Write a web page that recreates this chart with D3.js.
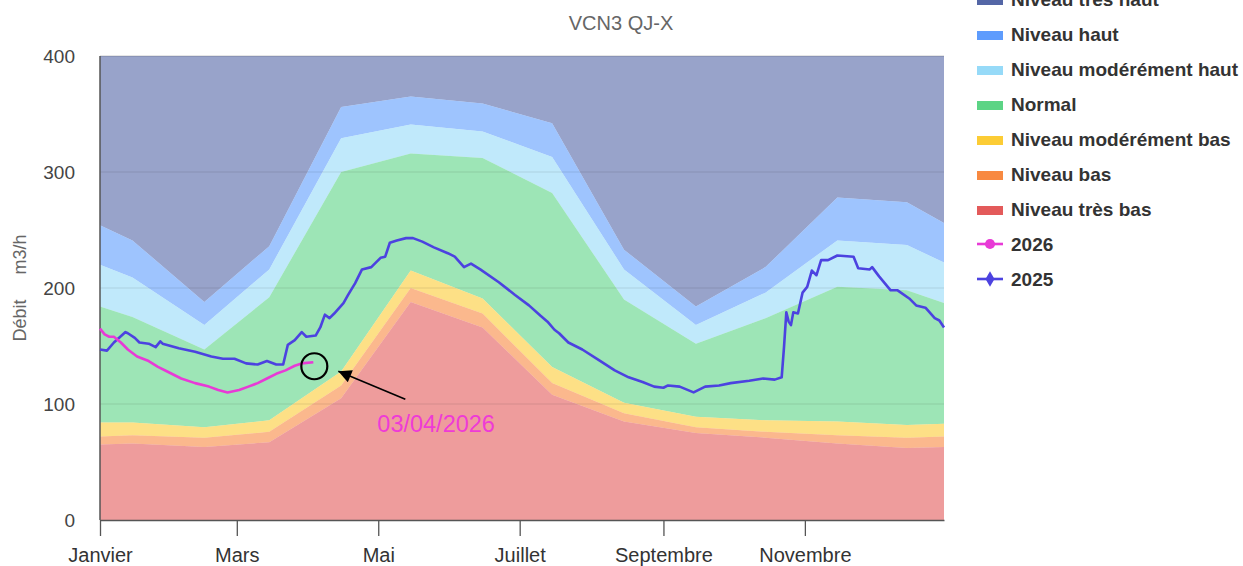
<!DOCTYPE html>
<html>
<head lang="fr">
  <meta charset="UTF-8">
  <title>VCN3 QJ-X</title>
  <script src="https://cdn.jsdelivr.net/npm/d3@7"></script>
  <style>
    body { margin: 0; background: #fff; }
    text { font-family: "Liberation Sans", Arial, sans-serif; }
  </style>
</head>
<body>
<svg id="chart" width="1243" height="566"></svg>
<script>
  // Band breakpoints (mid-month), values = upper limit of each band in m3/h
  var bandDates = ['01-01', '01-15', '02-15', '03-15', '04-15', '05-15', '06-15',
                   '07-15', '08-15', '09-15', '10-15', '11-15', '12-15', '12-31'];
  var tresBas    = [65, 66, 63, 67, 105, 188, 166, 108, 85, 75, 71, 66, 62, 63];
  var bas        = [72, 73, 71, 76, 116, 200, 178, 118, 92, 80, 76, 73, 71, 72];
  var modBas     = [84, 84, 80, 86, 128, 215, 191, 132, 101, 89, 86, 85, 82, 83];
  var normal     = [184, 175, 147, 192, 300, 316, 312, 282, 190, 152, 174, 201, 198, 187];
  var modHaut    = [220, 209, 168, 216, 329, 341, 335, 313, 216, 168, 196, 241, 237, 222];
  var haut       = [254, 241, 188, 236, 356, 365, 359, 342, 233, 184, 218, 278, 274, 256];
  var tresHaut   = [400, 400, 400, 400, 400, 400, 400, 400, 400, 400, 400, 400, 400, 400];

  // Daily flow, [day of year, value]
  var serie2025 = [
    [0, 147], [3, 146], [6, 153], [11, 162], [12, 161], [15, 157], [17, 153], [21, 152],
    [24, 149], [26, 154], [27, 152], [34, 148], [41, 145], [48, 141], [53, 139], [58, 139],
    [63, 135], [68, 134], [72, 137], [76, 134], [79, 134], [81, 151], [84, 155], [87, 162],
    [89, 158], [93, 159], [95, 166], [97, 177], [99, 174], [101, 178], [105, 187], [107, 194],
    [110, 204], [113, 216], [117, 218], [121, 226], [123, 227], [125, 239], [128, 241],
    [132, 243], [135, 243], [139, 240], [144, 235], [150, 230], [153, 227], [157, 218],
    [160, 221], [164, 216], [172, 205], [179, 194], [185, 185], [190, 176], [193, 171],
    [196, 164], [198, 161], [202, 153], [208, 147], [215, 138], [222, 129], [228, 123],
    [234, 119], [239, 115], [243, 114], [245, 116], [250, 115], [256, 110], [261, 115],
    [267, 116], [272, 118], [280, 120], [286, 122], [291, 121], [294, 123], [295, 149],
    [296, 179], [297, 171], [298, 168], [299, 179], [301, 178], [303, 196], [305, 201],
    [307, 215], [309, 211], [311, 224], [314, 224], [318, 228], [325, 227], [327, 217],
    [332, 216], [333, 218], [336, 210], [341, 198], [344, 198], [349, 191], [352, 185],
    [356, 183], [360, 174], [362, 172], [364, 166]
  ];
  var serie2026 = [
    [0, 165], [2, 160], [4, 158], [6, 158], [9, 153], [12, 147], [16, 141], [21, 137],
    [25, 132], [29, 128], [35, 122], [41, 118], [47, 115], [51, 112], [55, 110], [60, 112],
    [64, 115], [68, 118], [72, 122], [76, 126], [80, 129], [84, 133], [87, 135], [92, 136]
  ];

  var monthTicks = ['01-01', '03-01', '05-01', '07-01', '09-01', '11-01'];
  var monthLabels = ['Janvier', 'Mars', 'Mai', 'Juillet', 'Septembre', 'Novembre'];
  var yTicks = [0, 100, 200, 300, 400];

  (function () {
  var bands = [
    { name: 'Niveau très haut',       values: tresHaut, color: '#5466a6' },
    { name: 'Niveau haut',            values: haut,     color: '#5e9cfd' },
    { name: 'Niveau modérément haut', values: modHaut,  color: '#96daf8' },
    { name: 'Normal',                 values: normal,   color: '#5cd485' },
    { name: 'Niveau modérément bas',  values: modBas,   color: '#fccc35' },
    { name: 'Niveau bas',             values: bas,      color: '#f88941' },
    { name: 'Niveau très bas',        values: tresBas,  color: '#e35a5a' }
  ];
  var lines = [
    { name: '2026', data: serie2026, color: '#e83ad6', marker: 'circle' },
    { name: '2025', data: serie2025, color: '#4c42e0', marker: 'diamond' }
  ];

  var mLeft = 100, mRight = 944, mTop = 56, mBottom = 520;
  var year = 2025;
  var parseMD = function (md) { return new Date(year + '-' + md + 'T00:00:00Z'); };
  var fromDay = function (d) { return d3.utcDay.offset(new Date(Date.UTC(year, 0, 1)), d); };

  var x = d3.scaleUtc()
    .domain([parseMD('01-01'), parseMD('12-31')])
    .range([mLeft, mRight]);
  var y = d3.scaleLinear().domain([0, 400]).range([mBottom, mTop]);

  var svg = d3.select('#chart');

  // Bands, each one from the band below it up to its own limit
  var bandG = svg.append('g');
  bands.forEach(function (b, i) {
    var lower = bands[i + 1] ? bands[i + 1].values : null;
    var area = d3.area()
      .x(function (d, j) { return x(parseMD(bandDates[j])); })
      .y0(function (d, j) { return y(lower ? lower[j] : 0); })
      .y1(function (d) { return y(d); });
    bandG.append('path')
      .attr('d', area(b.values))
      .attr('fill', b.color)
      .attr('fill-opacity', 0.6);
  });

  // Grid
  svg.append('g').selectAll('line')
    .data(yTicks.slice(1))
    .enter().append('line')
      .attr('x1', mLeft).attr('x2', mRight)
      .attr('y1', function (d) { return y(d); })
      .attr('y2', function (d) { return y(d); })
      .attr('stroke', '#000')
      .attr('stroke-opacity', function (d) { return d === 400 ? 0.2 : 0.1; })
      .attr('stroke-width', 1.2);

  // Y axis labels
  svg.append('g').selectAll('text')
    .data(yTicks)
    .enter().append('text')
      .attr('x', 75)
      .attr('y', function (d) { return y(d) + 7; })
      .attr('text-anchor', 'end')
      .attr('font-size', 19)
      .attr('fill', '#444')
      .text(function (d) { return d; });

  svg.append('text')
    .attr('transform', 'translate(26,288) rotate(-90)')
    .attr('text-anchor', 'middle')
    .attr('font-size', 18)
    .attr('fill', '#666')
    .text('Débit\u00a0\u00a0\u00a0\u00a0\u00a0m3/h');

  // X axis
  var xAxis = d3.axisBottom(x)
    .tickValues(monthTicks.map(parseMD))
    .tickFormat(function (d, i) { return monthLabels[i]; })
    .tickSizeInner(16)
    .tickSizeOuter(0)
    .tickPadding(12);
  var xg = svg.append('g')
    .attr('transform', 'translate(0,' + mBottom + ')')
    .call(xAxis);
  xg.select('.domain').attr('stroke', '#555').attr('stroke-width', 1.5);
  xg.selectAll('.tick line').attr('stroke', '#555').attr('stroke-width', 1.3);
  xg.selectAll('.tick text')
    .attr('font-family', '"Liberation Sans", Arial, sans-serif')
    .attr('font-size', 20)
    .attr('fill', '#333');

  svg.append('line')
    .attr('x1', mLeft).attr('x2', mLeft)
    .attr('y1', mTop).attr('y2', mBottom)
    .attr('stroke', '#555').attr('stroke-width', 1.5);

  // Series lines
  var lineGen = d3.line()
    .x(function (d) { return x(fromDay(d[0])); })
    .y(function (d) { return y(d[1]); });
  lines.slice().reverse().forEach(function (s) {
    svg.append('path')
      .attr('d', lineGen(s.data))
      .attr('fill', 'none')
      .attr('stroke', s.color)
      .attr('stroke-width', 2.6)
      .attr('stroke-linejoin', 'round');
  });

  // Annotation on the last 2026 point
  var last = serie2026[serie2026.length - 1];
  var px = x(fromDay(last[0])), py = y(last[1]);
  svg.append('defs').append('marker')
    .attr('id', 'arrow')
    .attr('viewBox', '0 0 10 10')
    .attr('refX', 10).attr('refY', 5)
    .attr('markerWidth', 17).attr('markerHeight', 13)
    .attr('markerUnits', 'userSpaceOnUse')
    .attr('orient', 'auto')
    .append('path').attr('d', 'M0,0 L10,5 L0,10 Z').attr('fill', '#000');
  svg.append('circle')
    .attr('cx', px + 1).attr('cy', py + 4).attr('r', 13)
    .attr('fill', 'none').attr('stroke', '#000').attr('stroke-width', 2.2);
  svg.append('line')
    .attr('x1', px + 92).attr('y1', py + 37)
    .attr('x2', px + 25).attr('y2', py + 9)
    .attr('stroke', '#000').attr('stroke-width', 1.6)
    .attr('marker-end', 'url(#arrow)');
  svg.append('text')
    .attr('x', px + 64).attr('y', py + 70)
    .attr('font-size', 23.5)
    .attr('fill', '#ee3bd6')
    .text('03/04/2026');

  // Subtitle
  svg.append('text')
    .attr('x', 621).attr('y', 30)
    .attr('text-anchor', 'middle')
    .attr('font-size', 20)
    .attr('fill', '#666')
    .text('VCN3 QJ-X');

  // Legend
  var legendItems = bands.map(function (b) { return { name: b.name, color: b.color, type: 'rect' }; })
    .concat(lines.map(function (l) { return { name: l.name, color: l.color, type: l.marker }; }));
  var lg = svg.append('g').selectAll('g')
    .data(legendItems)
    .enter().append('g')
      .attr('transform', function (d, i) { return 'translate(977,' + (-1 + i * 35) + ')'; });
  lg.filter(function (d) { return d.type === 'rect'; })
    .append('rect')
      .attr('x', 0).attr('y', -3).attr('width', 26).attr('height', 9)
      .attr('fill', function (d) { return d.color; });
  var ln = lg.filter(function (d) { return d.type !== 'rect'; });
  ln.append('line')
    .attr('x1', 0).attr('x2', 26).attr('y1', 0).attr('y2', 0)
    .attr('stroke', function (d) { return d.color; }).attr('stroke-width', 2.6);
  ln.append('path')
    .attr('transform', 'translate(13,0)')
    .attr('d', function (d) {
      return d3.symbol().type(d.type === 'circle' ? d3.symbolCircle : d3.symbolDiamond)
        .size(d.type === 'circle' ? 80 : 70)();
    })
    .attr('fill', function (d) { return d.color; });
  lg.append('text')
    .attr('x', 34).attr('y', 7)
    .attr('font-size', 19)
    .attr('font-weight', 'bold')
    .attr('fill', '#333')
    .text(function (d) { return d.name; });
  })();
</script>
</body>
</html>
